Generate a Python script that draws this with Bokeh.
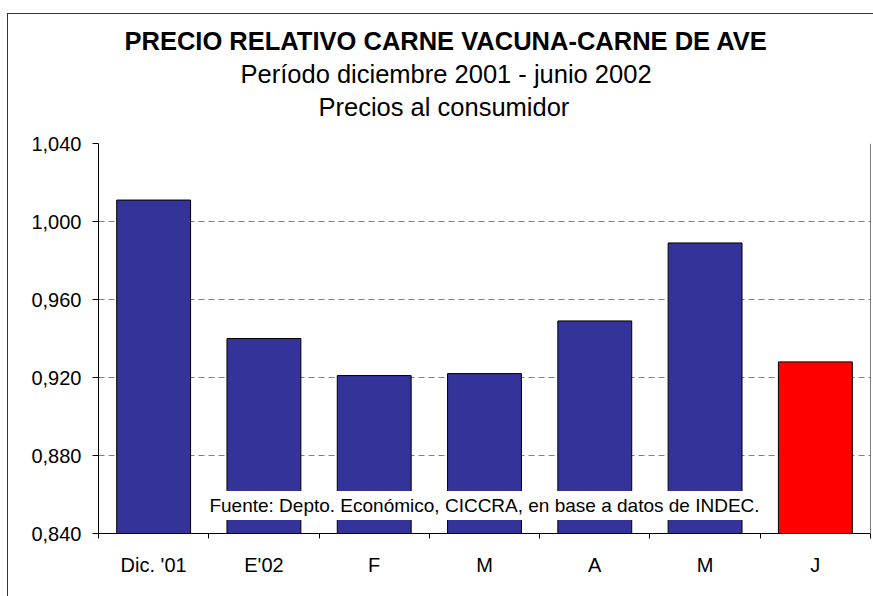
from bokeh.plotting import figure
from bokeh.models import (Range1d, FixedTicker, Label, Span, ColumnDataSource, Title)
from bokeh.embed import file_html
from bokeh.resources import INLINE

# ---- data ----
categories = ["Dic. '01", "E'02", "F", "M", "A", "M", "J"]
values = [1.011, 0.940, 0.921, 0.922, 0.949, 0.989, 0.928]
bar_colors = ["#333399", "#333399", "#333399", "#333399", "#333399", "#333399", "#FF0000"]
y_ticks = [0.840, 0.880, 0.920, 0.960, 1.000, 1.040]
y_tick_labels = ["0,840", "0,880", "0,920", "0,960", "1,000", "1,040"]
title_text = "PRECIO RELATIVO CARNE VACUNA-CARNE DE AVE"
subtitle_1 = "Período diciembre 2001 - junio 2002"
subtitle_2 = "Precios al consumidor"
source_text = "Fuente: Depto. Económico, CICCRA, en base a datos de INDEC."

FONT = "Liberation Sans"
n = len(categories)
centers = [i + 0.5 for i in range(n)]
bounds = [float(i) for i in range(n + 1)]

src = ColumnDataSource(dict(x=centers, top=values, color=bar_colors))

p = figure(width=873, height=596, output_backend="svg", toolbar_location=None,
           x_range=Range1d(0, n), y_range=Range1d(y_ticks[0], y_ticks[-1]),
           min_border_left=98, min_border_right=3, min_border_top=143, min_border_bottom=63)
p.outline_line_color = None
p.background_fill_color = "white"
p.border_fill_color = None
# outer chart border (left and top edges visible), drawn as the host element background
p.styles = {
    "background-color": "white",
    "background-image": "linear-gradient(#333333, #333333), linear-gradient(#333333, #333333)",
    "background-size": "1px 100%, 100% 1px",
    "background-position": "7px 13px, 7px 13px",
    "background-repeat": "no-repeat",
}

p.vbar(x="x", top="top", bottom=y_ticks[0], width=0.67, fill_color="color",
       line_color="black", line_width=1, source=src)

# axes
p.xaxis.ticker = FixedTicker(ticks=centers, minor_ticks=bounds)
p.xaxis.major_label_overrides = {c: lab for c, lab in zip(centers, categories)}
p.xaxis.major_tick_line_color = None
p.xaxis.minor_tick_line_color = "black"
p.xaxis.minor_tick_out = 5
p.xaxis.minor_tick_in = 0
p.xaxis.major_label_standoff = 14
p.xaxis.major_label_text_font = FONT
p.xaxis.major_label_text_font_size = "20px"
p.xaxis.major_label_text_color = "black"
p.xaxis.axis_line_color = "black"

p.yaxis.ticker = FixedTicker(ticks=y_ticks)
p.yaxis.major_label_overrides = {t: lab for t, lab in zip(y_ticks, y_tick_labels)}
p.yaxis.minor_tick_line_color = None
p.yaxis.major_tick_out = 6
p.yaxis.major_tick_in = 0
p.yaxis.major_tick_line_color = "black"
p.yaxis.major_label_standoff = 11
p.yaxis.major_label_text_font = FONT
p.yaxis.major_label_text_font_size = "20px"
p.yaxis.major_label_text_color = "black"
p.yaxis.axis_line_color = "black"

p.xgrid.grid_line_color = None
p.ygrid.grid_line_color = "#808080"
p.ygrid.grid_line_dash = "6 4"
p.ygrid.grid_line_width = 1

# right edge of plot area
p.add_layout(Span(location=n, dimension="height", line_color="black", line_width=1))

# titles (nearest to the plot first); first one is an empty spacer
p.add_layout(Title(text=" ", text_font_size="2px", standoff=16), "above")
p.add_layout(Title(text=subtitle_2, align="left", offset=220, standoff=5,
                   text_font=FONT, text_font_size="25.5px", text_font_style="normal",
                   text_color="black"), "above")
p.add_layout(Title(text=subtitle_1, align="left", offset=142, standoff=2,
                   text_font=FONT, text_font_size="25.5px", text_font_style="normal",
                   text_color="black"), "above")
p.add_layout(Title(text=title_text, align="left", offset=26, standoff=3,
                   text_font=FONT, text_font_size="25.5px", text_font_style="bold",
                   text_color="black"), "above")

# source note
p.add_layout(Label(x=386, y=28, x_units="screen", y_units="screen", text=source_text,
                   text_font=FONT, text_font_size="19px",
                   text_align="center", text_baseline="middle", text_color="black",
                   background_fill_color="white", padding=4))

open("out.html", "w").write(file_html(p, INLINE))
